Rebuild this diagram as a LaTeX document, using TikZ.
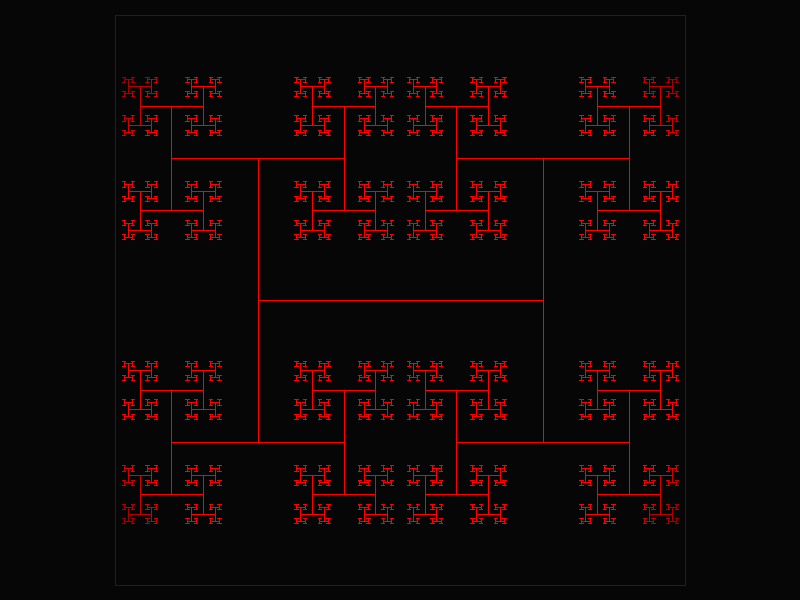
\documentclass[tikz,border=0pt]{standalone}
\definecolor{bgc}{RGB}{6,6,6}
\definecolor{framec}{RGB}{62,18,22}
\def\Lens{{285,284,172.4,104.6,63.5,38.6,23.4,14.2,8.6,5.2,3.2}}
\newcommand\hseg[3]{%
  \ifnum#3<11\relax
  \begingroup
  \pgfmathsetmacro\hL{\Lens[#3]/2}%
  \pgfmathsetmacro\hd{veclen(#1-400,#2-300)}%
  \pgfmathtruncatemacro\hi{max(45,min(100,100-(\hd-300)*0.75))}%
  \pgfmathsetmacro\px{round(#1)+0.5}%
  \pgfmathsetmacro\py{round(#2)+0.5}%
  \ifodd#3\relax
    \pgfmathsetmacro\ha{#2-\hL}\pgfmathsetmacro\hb{#2+\hL}%
    \pgfmathsetmacro\ra{round(\ha)+0.5}\pgfmathsetmacro\rb{round(\hb)+0.5}%
    \draw[treeline,draw=red!\hi!black] (\px,\ra) -- (\px,\rb);
    \edef\hnext{\noexpand\hseg{#1}{\ha}{\the\numexpr#3+1\relax}\noexpand\hseg{#1}{\hb}{\the\numexpr#3+1\relax}}%
  \else
    \pgfmathsetmacro\ha{#1-\hL}\pgfmathsetmacro\hb{#1+\hL}%
    \pgfmathsetmacro\ra{round(\ha)+0.5}\pgfmathsetmacro\rb{round(\hb)+0.5}%
    \draw[treeline,draw=red!\hi!black] (\ra,\py) -- (\rb,\py);
    \edef\hnext{\noexpand\hseg{\ha}{#2}{\the\numexpr#3+1\relax}\noexpand\hseg{\hb}{#2}{\the\numexpr#3+1\relax}}%
  \fi
  \expandafter\endgroup\hnext
  \fi}
\begin{document}
\begin{tikzpicture}[x=1bp,y=-1bp,treeline/.style={line width=1.1bp,line cap=rect}]
\fill[bgc] (0,0) rectangle (800,600);
\useasboundingbox (0,0) rectangle (800,600);
\draw[framec, line width=1bp] (115.5,15.5) rectangle (685.5,585.5);
\hseg{400}{300}{0}
\end{tikzpicture}
\end{document}
